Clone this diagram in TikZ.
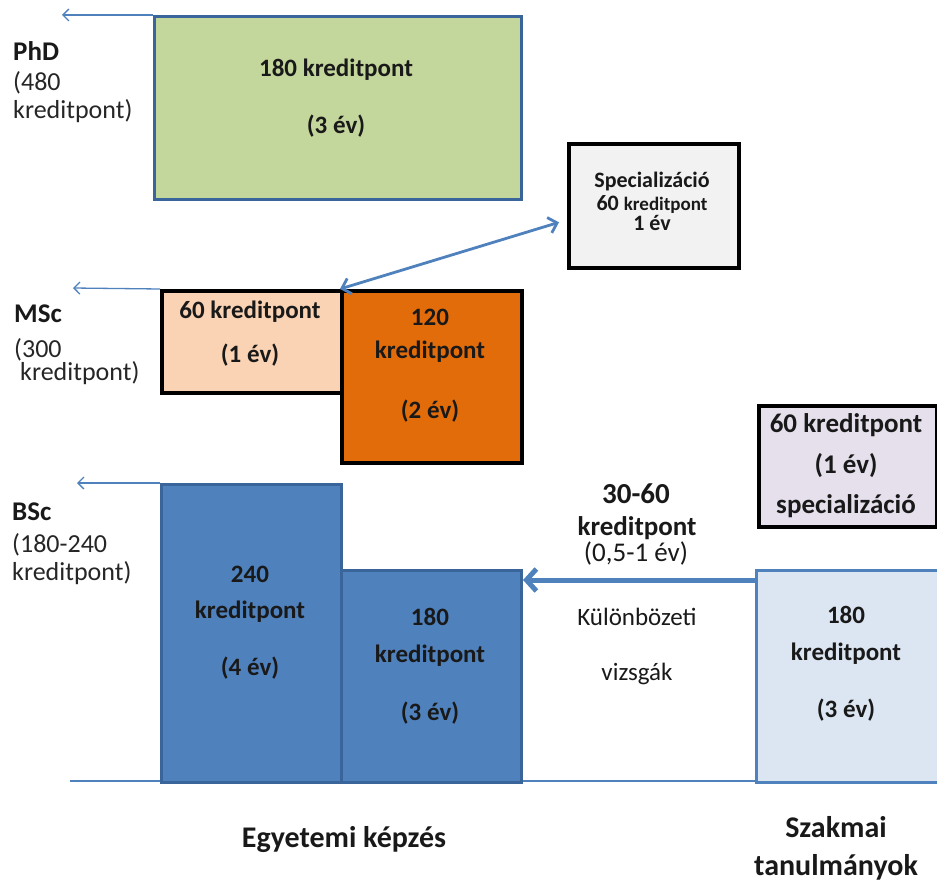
\documentclass[tikz,border=0pt]{standalone}
\usepackage{fontspec}
\setmainfont{Carlito}
\usetikzlibrary{arrows.meta,calc}
\definecolor{phdfill}{HTML}{C3D69B}
\definecolor{boxblue}{HTML}{4F81BD}
\definecolor{boxedge}{HTML}{3A659A}
\definecolor{peach}{HTML}{FAD3B4}
\definecolor{orng}{HTML}{E36C0A}
\definecolor{specfill}{HTML}{F2F2F2}
\definecolor{lilac}{HTML}{E5E0EC}
\definecolor{paleblue}{HTML}{DCE6F2}
\begin{document}
\begin{tikzpicture}[x=1pt,y=-1pt,
  box/.style={draw, anchor=north west, inner sep=0pt, line width=3pt},
  bluebox/.style={box, draw=boxedge},
  blackbox/.style={box, draw=black, line width=3.5pt},
  bt/.style={font=\fontsize{25}{30}\selectfont\bfseries, anchor=base, inner sep=0pt, text=black!90},
  rt/.style={font=\fontsize{26}{30}\selectfont, anchor=base, inner sep=0pt, text=black!90},
  lt/.style={font=\fontsize{26}{30}\selectfont, anchor=base west, inner sep=0pt, text=black!85},
  lbt/.style={lt, font=\fontsize{27}{30}\selectfont\bfseries, text=black!90},
  thinarrow/.style={draw=boxblue, line width=1.3pt, -{Straight Barb[length=6pt,width=12pt]}},
]
\useasboundingbox (0,0) rectangle (937,883);

% baseline
\coordinate (bl0) at (70,781);
\coordinate (bl1) at (937,781);
\draw[boxblue, line width=2pt] (bl0) -- (bl1);

% PhD
\node[bluebox, fill=phdfill, minimum width=367pt, minimum height=183pt] (phd) at (153,15) {};
\node[bt] at (336,77) {180 kreditpont};
\node[bt] at (336,133) {(3 év)};
\coordinate (phdend) at (62,15);
\draw[thinarrow] (phd.north west) -- (phdend);
\node[lbt] at (13,60) {PhD};
\node[lt] at (13,90) {(480};
\node[lt] at (13,118) {kreditpont)};

% Specialization box
\node[blackbox, fill=specfill, minimum width=170pt, minimum height=124pt] (spec) at (567,142) {};
\node[bt, font=\fontsize{22}{26}\selectfont\bfseries] at (652,187) {Specializáció};
\node[bt, font=\fontsize{22}{26}\selectfont\bfseries] at (652,210) {60 {\fontsize{19}{22}\selectfont kreditpont}};
\node[bt, font=\fontsize{22}{26}\selectfont\bfseries] at (652,230) {1 év};

% MSc
\node[blackbox, fill=peach, minimum width=180pt, minimum height=102pt] (mscA) at (160,289) {};
\node[blackbox, fill=orng, minimum width=180pt, minimum height=172pt] (mscB) at (340,289) {};
\node[bt] at (250,318) {60 kreditpont};
\node[bt] at (250,362) {(1 év)};
\node[bt] at (430,325) {120};
\node[bt] at (430,358) {kreditpont};
\node[bt] at (430,418) {(2 év)};
\coordinate (mscend) at (73,288);
\draw[thinarrow] (mscA.north west) -- (mscend);
\node[lbt] at (14,322) {MSc};
\node[lt] at (14,357) {(300};
\node[lt] at (20,380) {kreditpont)};

\coordinate (specin) at ($(spec.north west)!0.63!(spec.south west)$);
\draw[draw=boxblue, line width=2.8pt, {Straight Barb[length=8pt,width=16pt]}-{Straight Barb[length=8pt,width=16pt]}] (mscB.north west) -- ([xshift=-8pt]specin);

% BSc
\node[bluebox, fill=boxblue, minimum width=180pt, minimum height=298pt] (bscA) at (160,483) {};
\node[bluebox, fill=boxblue, minimum width=180pt, minimum height=212pt] (bscB) at (340,569) {};
\node[bt] at (250,582) {240};
\node[bt] at (250,618) {kreditpont};
\node[bt] at (250,675) {(4 év)};
\node[bt] at (430,625) {180};
\node[bt] at (430,662) {kreditpont};
\node[bt] at (430,720) {(3 év)};
\coordinate (bscend) at (77,483);
\draw[thinarrow] (bscA.north west) -- (bscend);
\node[lbt] at (12,520) {BSc};
\node[lt] at (12,552) {(180-240};
\node[lt] at (12,580) {kreditpont)};

% Szakmai
\node[box, draw=boxblue, fill=paleblue, minimum width=182pt, minimum height=212pt] (szak) at (755,569) {};
\node[bt] at (846,623) {180};
\node[bt] at (846,660) {kreditpont};
\node[bt] at (846,717) {(3 év)};

\coordinate (szakin) at ($(szak.north west)+(0,11)$);
\coordinate (bscin) at ($(bscB.north east)+(0,11)$);
\draw[draw=boxblue, line width=5pt, -{Straight Barb[length=10pt,width=22pt]}] (szakin) -- (bscin);

\node[bt, font=\fontsize{29}{32}\selectfont\bfseries] at (636,503) {30-60};
\node[bt, font=\fontsize{27}{30}\selectfont\bfseries] at (637,535) {kreditpont};
\node[rt, font=\fontsize{27}{30}\selectfont] at (636,561) {(0,5-1 év)};
\node[rt, font=\fontsize{25}{30}\selectfont] at (637,625) {Különbözeti};
\node[rt, font=\fontsize{25}{30}\selectfont] at (637,680) {vizsgák};

% purple specialization
\node[blackbox, fill=lilac, minimum width=178pt, minimum height=121pt] (spec2) at (757,404) {};
\node[bt, font=\fontsize{27}{30}\selectfont\bfseries] at (846,432) {60 kreditpont};
\node[bt, font=\fontsize{27}{30}\selectfont\bfseries] at (846,473) {(1 év)};
\node[bt, font=\fontsize{27}{30}\selectfont\bfseries] at (846,513) {specializáció};

% bottom labels
\node[bt, font=\fontsize{30}{34}\selectfont\bfseries] at (344,847) {Egyetemi képzés};
\node[bt, font=\fontsize{30}{34}\selectfont\bfseries] at (836,837) {Szakmai};
\node[bt, font=\fontsize{30}{34}\selectfont\bfseries] at (836,875) {tanulmányok};
\end{tikzpicture}
\end{document}
